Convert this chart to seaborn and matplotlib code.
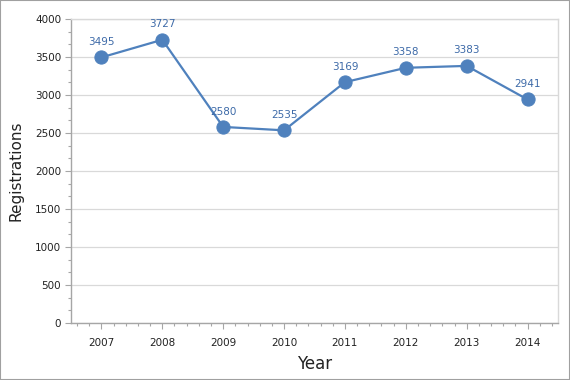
import matplotlib
matplotlib.use("Agg")
import matplotlib.pyplot as plt
import seaborn as sns
import pandas as pd
from matplotlib.ticker import MultipleLocator, FixedLocator
from matplotlib.patches import Rectangle

years = ["2007", "2008", "2009", "2010", "2011", "2012", "2013", "2014"]
registrations = [3495, 3727, 2580, 2535, 3169, 3358, 3383, 2941]
y_ticks = [0, 500, 1000, 1500, 2000, 2500, 3000, 3500, 4000]

sns.set_theme(style="white")
plt.rcParams['font.family'] = ['DejaVu Sans']

df = pd.DataFrame({"Year": years, "Registrations": registrations})

fig = plt.figure(figsize=(5.7, 3.8), dpi=100)
ax = fig.add_axes([71/570, 57/380, 487/570, 304/380])

line_color = "#4f81bd"
sns.lineplot(data=df, x="Year", y="Registrations", ax=ax, color=line_color,
             linewidth=1.6, marker="o", markersize=9.5, markeredgecolor=line_color,
             sort=False)

for i, v in enumerate(registrations):
    ax.annotate(str(v), (i, v), textcoords="offset points", xytext=(0, 7.5),
                ha="center", va="bottom", fontsize=7.5, color="#3d6aa8")

ax.set_xlim(-0.5, 7.5)
ax.set_ylim(0, 4000)
ax.set_yticks(y_ticks)
ax.yaxis.set_minor_locator(MultipleLocator(500/3))
minor_x = [i + d for i in range(8) for d in (-0.4, -0.2, 0.2, 0.4)]
ax.xaxis.set_minor_locator(FixedLocator(minor_x))

ax.grid(axis="y", color="#d9d9d9", linewidth=0.9)
ax.set_axisbelow(True)

for s in ["left", "bottom"]:
    ax.spines[s].set_color("#a6a6a6")
    ax.spines[s].set_linewidth(1.0)
for s in ["top", "right"]:
    ax.spines[s].set_color("#d9d9d9")
    ax.spines[s].set_linewidth(1.0)

ax.tick_params(axis="both", which="major", direction="out", length=4, width=0.8,
               color="#a6a6a6", labelsize=7.5, labelcolor="#222222", pad=3)
ax.tick_params(axis="both", which="minor", direction="out", length=2.5, width=0.8,
               color="#a6a6a6")
ax.tick_params(axis="x", which="major", pad=7)
ax.tick_params(axis="x", which="both", bottom=True)
ax.tick_params(axis="y", which="both", left=True)

ax.set_xlabel("Year", fontsize=12, color="#222222", labelpad=5)
ax.set_ylabel("Registrations", fontsize=11, color="#222222", labelpad=8)

fig.patches.append(Rectangle((0, 0), 1, 1, transform=fig.transFigure,
                             fill=False, edgecolor="#a0a0a0", linewidth=1.5))

fig.savefig("out.png", dpi=100, facecolor="white")
